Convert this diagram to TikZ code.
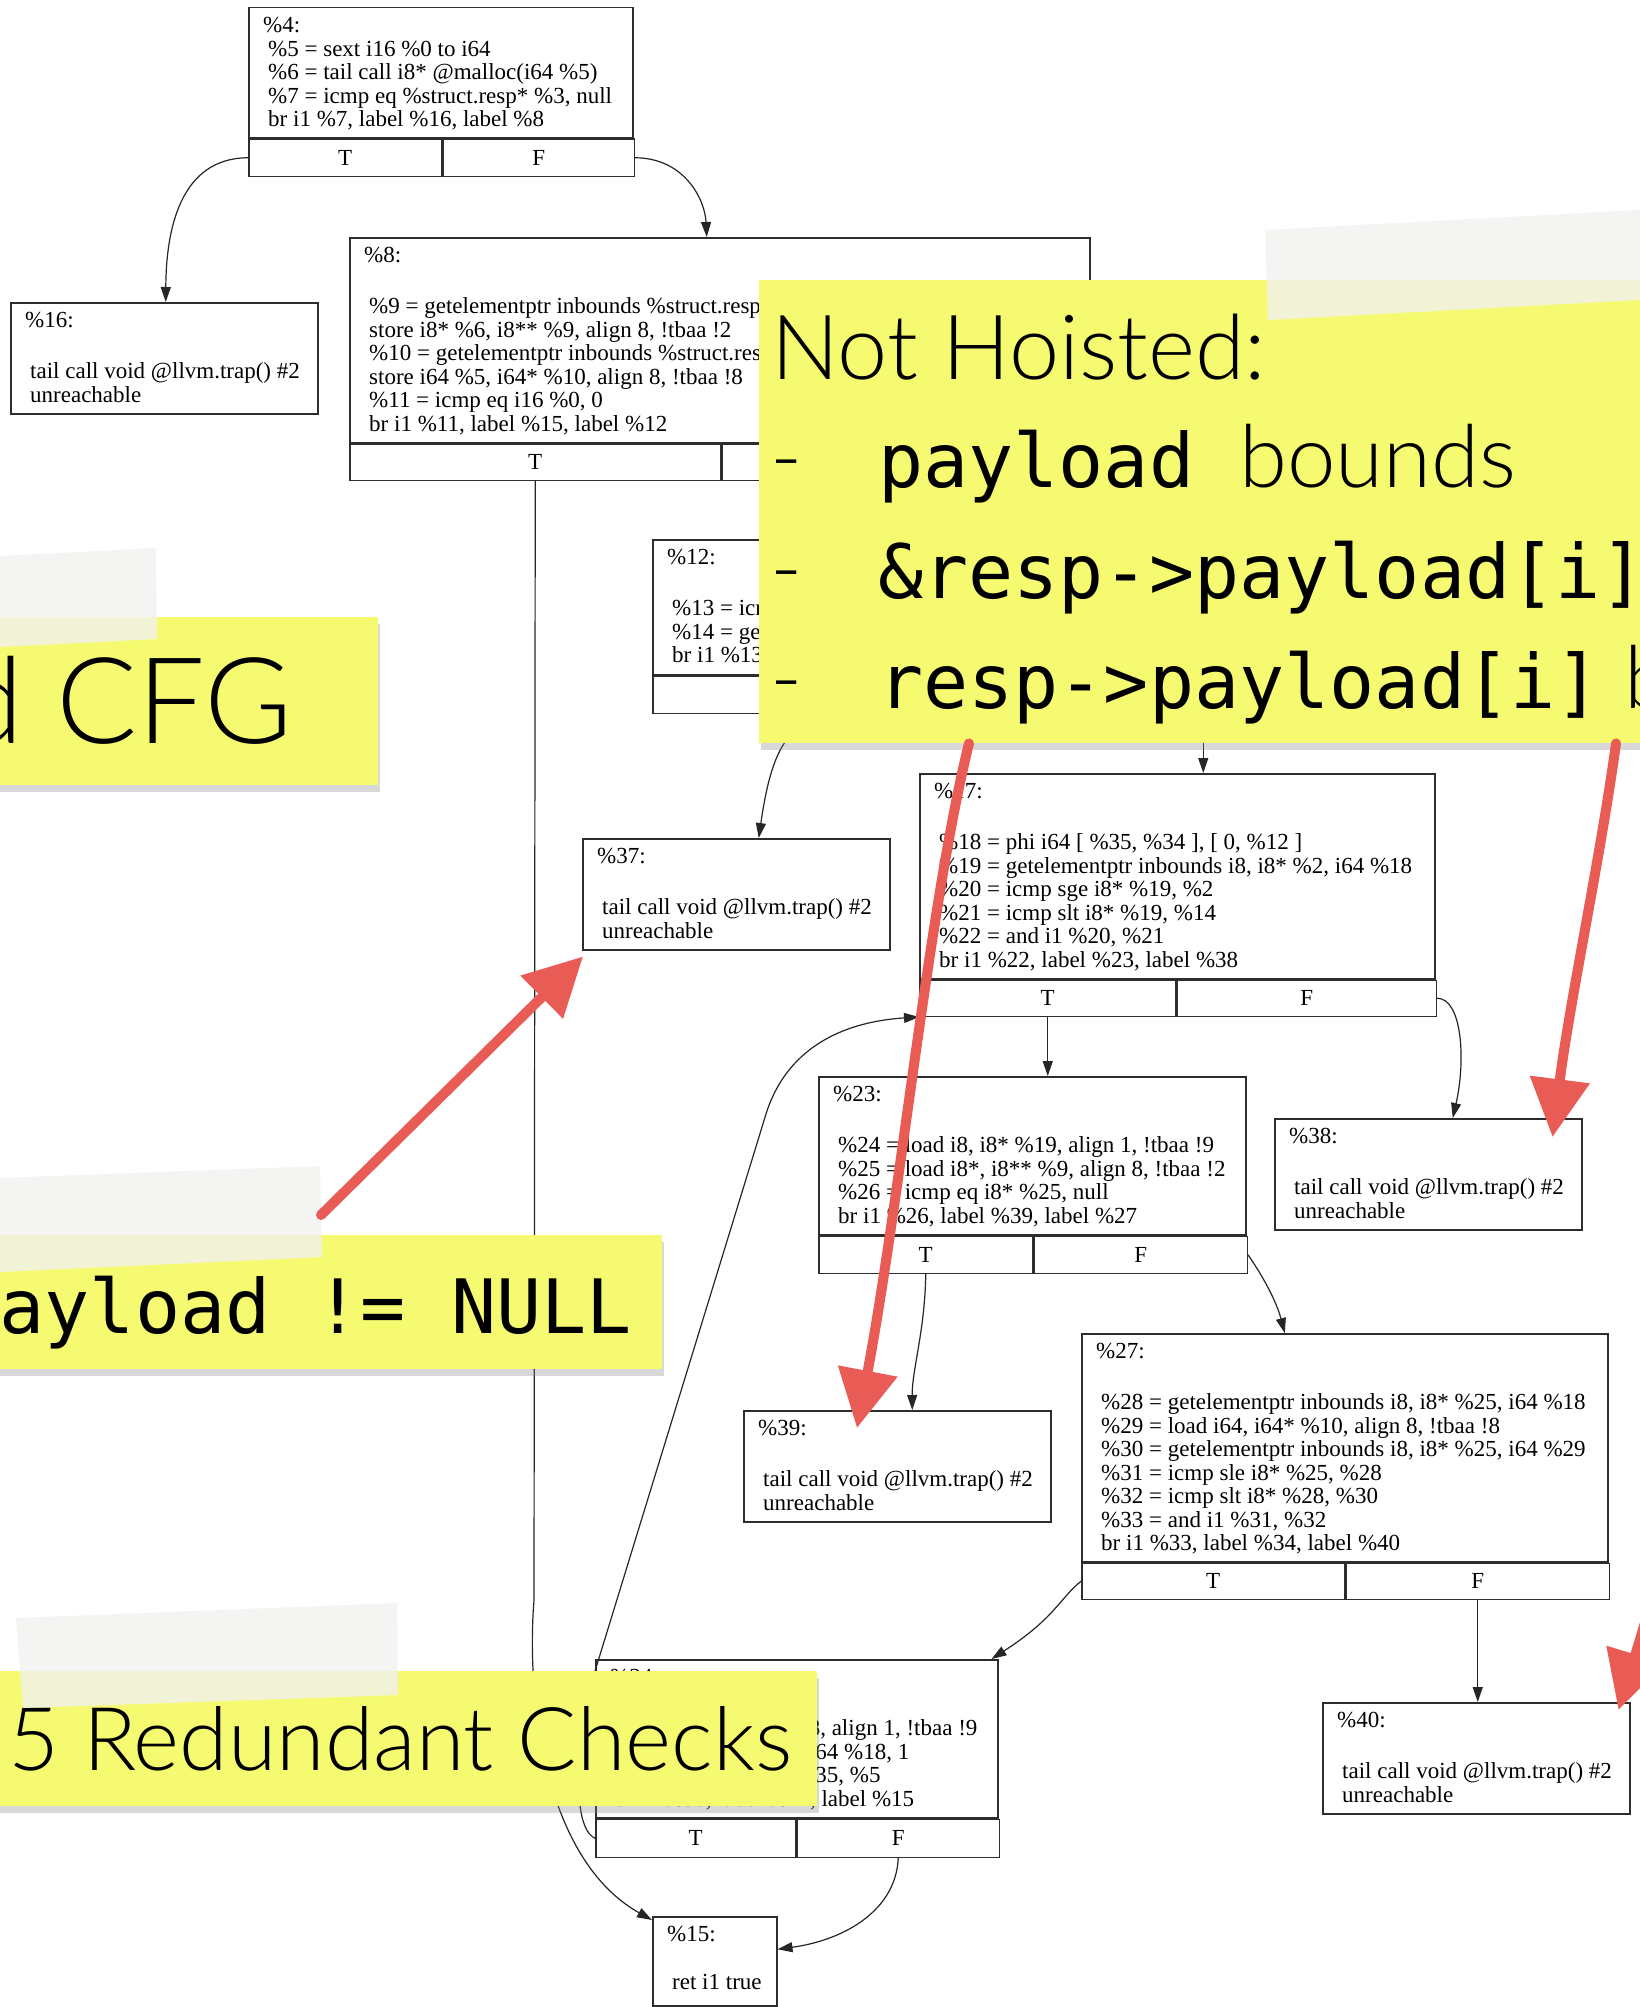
\documentclass[tikz,border=0pt]{standalone}
\usepackage{fontspec}
\newfontfamily\codefont{Liberation Serif}
\newfontfamily\notefont{Lato Light}
\newfontfamily\codemono{DejaVu Sans Mono}
\usetikzlibrary{arrows.meta,shadows}
\definecolor{boxline}{RGB}{45,45,45}
\definecolor{notebg}{RGB}{246,250,112}
\definecolor{tapegray}{RGB}{242,242,240}
\definecolor{chalkred}{RGB}{233,92,86}
\newcommand\blab[1]{\hspace*{-5pt}\rule{0pt}{18pt}#1}
\newcommand\cdmono{\codemono\fontsize{75pt}{100pt}\selectfont}

\begin{document}
\begin{tikzpicture}[x=1pt,y=-1pt,
  blk/.style={draw=boxline, line width=1.5pt, anchor=north west, inner sep=0pt, minimum width=307pt, minimum height=111pt},
  cell/.style={draw=boxline, line width=1.5pt, anchor=north west, inner sep=0pt, minimum height=37pt, font=\codefont\fontsize{23pt}{23.5pt}\selectfont},
  code/.style={anchor=north west, inner sep=0pt, align=left, font=\codefont\fontsize{23pt}{23.5pt}\selectfont},
  flow/.style={draw=black!85, line width=1.2pt, -{Triangle[length=15pt,width=10pt]}},
  note/.style={fill=notebg, anchor=north west, inner sep=0pt, drop shadow={shadow xshift=2pt, shadow yshift=-7pt, opacity=0.3}},
  ntext/.style={inner sep=0pt, font=\notefont\fontsize{87pt}{100pt}\selectfont},
  tape/.style={fill=tapegray, fill opacity=0.8},
  chalk/.style={draw=chalkred, line width=10pt, line cap=round, -{Triangle[length=58pt,width=58pt]}}]
\fill[white] (0,0) rectangle (1640,2007);
\useasboundingbox (0,0) rectangle (1640,2007);

% blocks of the CFG
\node[blk, minimum width=384pt, minimum height=130pt] (b4) at (248,7) {};
\node[code] (t4) at ([xshift=20pt,yshift=-7.5pt]b4.north west) {\blab{\%4:}\\ \%5 = sext i16 \%0 to i64\\ \%6 = tail call i8* @malloc(i64 \%5)\\ \%7 = icmp eq \%struct.resp* \%3, null\\ br i1 \%7, label \%16, label \%8};
\node[cell, minimum width=193pt] (b4T) at (b4.south west) {T};
\node[cell, minimum width=191pt] (b4F) at (b4T.north east) {F};

\node[blk, minimum width=740pt, minimum height=205pt] (b8) at (349,237) {};
\node[code] (t8) at ([xshift=20pt,yshift=-7.5pt]b8.north west) {\blab{\%8:}\\[27.5pt] \%9 = getelementptr inbounds \%struct.resp\\ store i8* \%6, i8** \%9, align 8, !tbaa !2\\ \%10 = getelementptr inbounds \%struct.resp\\ store i64 \%5, i64* \%10, align 8, !tbaa !8\\ \%11 = icmp eq i16 \%0, 0\\ br i1 \%11, label \%15, label \%12};
\node[cell, minimum width=371pt, minimum height=36pt] (b8T) at (b8.south west) {T};
\node[cell, minimum width=369pt, minimum height=36pt] (b8F) at (b8T.north east) {F};

\node[blk, minimum width=732pt, minimum height=135pt] (b12) at (652,539) {};
\node[code] (t12) at ([xshift=20pt,yshift=-7.5pt]b12.north west) {\blab{\%12:}\\[27.5pt] \%13 = icmp\\ \%14 = getelementptr\\ br i1 \%13};
\node[cell, minimum width=366pt] (b12T) at (b12.south west) {T};
\node[cell, minimum width=366pt] (b12F) at (b12T.north east) {F};

\node[blk, minimum width=515pt, minimum height=205pt] (b17) at (919,773) {};
\node[code] (t17) at ([xshift=20pt,yshift=-7.5pt]b17.north west) {\blab{\%17:}\\[27.5pt] \%18 = phi i64 [ \%35, \%34 ], [ 0, \%12 ]\\ \%19 = getelementptr inbounds i8, i8* \%2, i64 \%18\\ \%20 = icmp sge i8* \%19, \%2\\ \%21 = icmp slt i8* \%19, \%14\\ \%22 = and i1 \%20, \%21\\ br i1 \%22, label \%23, label \%38};
\node[cell, minimum width=256pt, minimum height=36pt] (b17T) at (b17.south west) {T};
\node[cell, minimum width=259pt, minimum height=36pt] (b17F) at (b17T.north east) {F};

\node[blk, minimum width=427pt, minimum height=158pt] (b23) at (818,1076) {};
\node[code] (t23) at ([xshift=20pt,yshift=-7.5pt]b23.north west) {\blab{\%23:}\\[27.5pt] \%24 = load i8, i8* \%19, align 1, !tbaa !9\\ \%25 = load i8*, i8** \%9, align 8, !tbaa !2\\ \%26 = icmp eq i8* \%25, null\\ br i1 \%26, label \%39, label \%27};
\node[cell, minimum width=214pt] (b23T) at (b23.south west) {T};
\node[cell, minimum width=213pt] (b23F) at (b23T.north east) {F};

\node[blk, minimum width=526pt, minimum height=228pt] (b27) at (1081,1333) {};
\node[code] (t27) at ([xshift=20pt,yshift=-7.5pt]b27.north west) {\blab{\%27:}\\[27.5pt] \%28 = getelementptr inbounds i8, i8* \%25, i64 \%18\\ \%29 = load i64, i64* \%10, align 8, !tbaa !8\\ \%30 = getelementptr inbounds i8, i8* \%25, i64 \%29\\ \%31 = icmp sle i8* \%25, \%28\\ \%32 = icmp slt i8* \%28, \%30\\ \%33 = and i1 \%31, \%32\\ br i1 \%33, label \%34, label \%40};
\node[cell, minimum width=263pt, minimum height=36pt] (b27T) at (b27.south west) {T};
\node[cell, minimum width=263pt, minimum height=36pt] (b27F) at (b27T.north east) {F};

\node[blk, minimum width=402pt, minimum height=158pt] (b34) at (595,1659) {};
\node[code] (t34) at ([xshift=20pt,yshift=-7.5pt]b34.north west) {\blab{\%34:}\\[27.5pt] store i8 \%24, i8* \%28, align 1, !tbaa !9\\ \%35 = add nuw nsw i64 \%18, 1\\ \%36 = icmp slt i64 \%35, \%5\\ br i1 \%36, label \%17, label \%15};
\node[cell, minimum width=200pt, minimum height=38pt] (b34T) at (b34.south west) {T};
\node[cell, minimum width=202pt, minimum height=38pt] (b34F) at (b34T.north east) {F};

\node[blk, minimum width=124pt, minimum height=89pt] (b15) at (652,1916) {};
\node[code] (t15) at ([xshift=20pt,yshift=-7.5pt]b15.north west) {\blab{\%15:}\\[24.5pt] ret i1 true};

\foreach \n/\x/\y in {16/10/302, 37/582/838, 38/1274/1118, 39/743/1410, 40/1322/1702}
{
	\node[blk] (b\n) at (\x,\y) {};
	\node[code] (t\n) at ([xshift=20pt,yshift=-7.5pt]b\n.north west) {\blab{\%\n:}\\[27.5pt] tail call void @llvm.trap() \#2\\ unreachable};
}

% edges
\draw[flow] (b4T.west) .. controls (180,158) and (166,230) .. ([xshift=1.5pt]b16.north);
\draw[flow] (b4F.east) .. controls (685,158) and (705,200) .. ([xshift=-13pt]b8.north);
\draw[flow] (b8T.south) -- (534,1600) .. controls (526,1700) and (545,1860) .. ([yshift=-4pt]b15.north west);
\draw[flow] (b8F.south) -- (b8F.south |- b12.north);
\draw[flow] (b12T.south) .. controls (790,720) and (772,745) .. ([xshift=22.5pt]b37.north);
\draw[flow] (b12F.south) -- (b12F.south |- b17.north);
\draw[flow] (b17T.south) -- (b17T.south |- b23.north);
\draw[flow] (b17F.east) .. controls (1462,998) and (1466,1060) .. ([xshift=24.5pt]b38.north);
\draw[flow] (b23T.south) .. controls (925,1330) and (912,1370) .. ([xshift=15pt]b39.north);
\draw[flow] (b23F.east) .. controls (1262,1275) and (1276,1300) .. ([xshift=-60pt]b27.north);
\draw[flow] (b27T.west) .. controls (1060,1598) and (1055,1618) .. ([xshift=-7pt]b34.north east);
\draw[flow] (b27F.south) -- (b27F.south |- b40.north);
\draw[flow] (b34F.south) .. controls (896,1910) and (845,1940) .. ([yshift=12pt]b15.east);
\draw[flow] (b34T.west) .. controls (578,1830) and (576,1790) .. (580,1720) -- (766,1114) .. controls (786,1050) and (840,1022) .. (b17T.south west);

% sticky notes
\node[note, minimum width=418pt, minimum height=168pt] (n1) at (-40,617) {};
\node[note, minimum width=1000pt, minimum height=463pt] (n2) at (759,280) {};
\node[note, minimum width=702pt, minimum height=134pt] (n3) at (-40,1235) {};
\node[note, minimum width=857pt, minimum height=135pt] (n4) at (-40,1671) {};

\node[ntext, font=\notefont\fontsize{120pt}{130pt}\selectfont, anchor=base east] (cfg) at (293,743) {d CFG};
\node[ntext, font=\notefont\fontsize{90pt}{100pt}\selectfont, anchor=base west] (hd) at (771,379) {Not Hoisted:};
\node[ntext, anchor=base west] (li1) at (770,487) {\makebox[108pt][l]{-}{\cdmono payload }bounds};
\node[ntext, anchor=base west] (li2) at (770,598) {\makebox[108pt][l]{-}{\cdmono \&resp->payload[i]}};
\node[ntext, anchor=base west] (li3) at (770,708) {\makebox[108pt][l]{-}{\cdmono resp->payload[i]} b};
\node[ntext, anchor=base east] (nul) at (632,1333) {\cdmono payload != NULL};
\node[ntext, font=\notefont\fontsize{88pt}{100pt}\selectfont, anchor=base west] (chk) at (8,1770) {5 Redundant Checks};

% tape
\fill[tape] (0,556) -- (156,548) -- (157,639) -- (0,647) -- cycle;
\fill[tape] (1265,230) -- (1640,210) -- (1640,300) -- (1268,320) -- cycle;
\fill[tape] (0,1178) -- (320,1166) -- (322,1257) -- (0,1272) -- cycle;
\fill[tape] (16,1618) -- (397,1603) -- (398,1695) -- (23,1708) -- cycle;

% red marks
\coordinate (a1) at (321,1215);
\coordinate (a4) at (1655,1590);
\draw[chalk] (a1) -- ([xshift=1pt,yshift=-6pt]b37.south west);
\draw[chalk] ([xshift=210pt]n2.south west) .. controls (930,900) and (900,1200) .. ([xshift=114pt,yshift=-18pt]b39.north west);
\draw[chalk] ([xshift=857pt]n2.south west) .. controls (1600,860) and (1570,1000) .. ([xshift=-30pt,yshift=-19pt]b38.north east);
\draw[chalk] (a4) -- ([xshift=-12pt,yshift=-8pt]b40.north east);

\end{tikzpicture}
\end{document}
